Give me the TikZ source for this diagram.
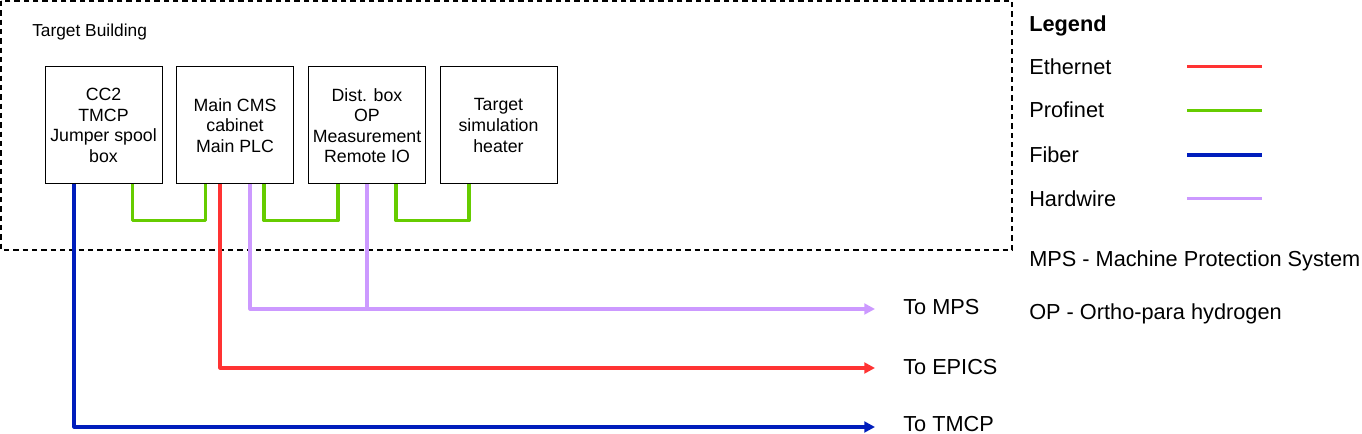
\documentclass[tikz,border=0pt]{standalone}
\usepackage{fontspec}
\setmainfont{Liberation Sans}
\usepackage{xcolor}
\usepackage{tikz}
\usetikzlibrary{arrows.meta,calc}

\definecolor{ethred}{HTML}{FF3333}
\definecolor{pngreen}{HTML}{66CC00}
\definecolor{fibblue}{HTML}{001DBC}
\definecolor{hwpurple}{HTML}{CC99FF}

\begin{document}
\begin{tikzpicture}[x=0.75pt,y=-0.75pt,
		cabinet/.style={draw, line width=0.75pt, minimum width=87.75pt, minimum height=87.75pt, align=center, inner sep=1pt, font=\fontsize{13.3}{15.4}\selectfont},
		lbl/.style={anchor=base west, inner sep=0pt, font=\fontsize{16.3}{19}\selectfont},
		cable/.style={line width=2.4pt, line join=round},
		ethernet/.style={cable, draw=ethred},
		profinet/.style={cable, draw=pngreen},
		fiber/.style={cable, draw=fibblue},
		hardwire/.style={cable, draw=hwpurple},
		tip/.style={-{Triangle[length=8pt,width=8pt]}}]
				\useasboundingbox (0,0) rectangle (1362,434);
				
				% building
				\draw [line width=1.1pt, dash pattern=on 4pt off 3pt] (1,1) rectangle (1012,250);
				\node [anchor=base west, inner sep=0pt, font=\fontsize{13}{15.4}\selectfont] (bldg) at (32,37) {Target Building};
				
				\node [cabinet] (cc2) at (103.5,125.5) {CC2\\TMCP\\Jumper spool\\box};
				\node [cabinet] (cms) at (235,125.5) {Main CMS\\cabinet\\Main PLC};
				\node [cabinet] (dist) at (367,125.5) {Dist. box\\OP\\Measurement\\Remote IO};
				\node [cabinet] (heater) at (498.5,125.5) {Target\\simulation\\heater};
				
				% outgoing
				\node [lbl] (mpslbl) at (903,315) {To MPS};
				\node [lbl] (epicslbl) at (903,374) {To EPICS};
				\node [lbl] (tmcplbl) at (903,431) {To TMCP};
				\coordinate (tomps) at (875,309);
				\coordinate (toepics) at (875,368);
				\coordinate (totmcp) at (875,427);
				
				\draw [profinet] ($(cc2.south)+(29,0)$) -- ++(0,36) -| ($(cms.south)+(-29.5,0)$);
				\draw [profinet] ($(cms.south)+(29,0)$) -- ++(0,36) -| ($(dist.south)+(-29,0)$);
				\draw [profinet] ($(dist.south)+(29,0)$) -- ++(0,36) -| ($(heater.south)+(-29.5,0)$);
				
				\draw [hardwire] (dist.south) -- (dist.south |- tomps);
				\draw [hardwire, tip] ($(cms.south)+(15,0)$) |- (tomps);
				\draw [ethernet, tip] ($(cms.south)+(-15,0)$) |- (toepics);
				\draw [fiber, tip] ($(cc2.south)+(-29.5,0)$) |- (totmcp);
				
				% legend
				\node [lbl] (legend) at (1029,32) {\textbf{Legend}};
				\node [lbl] (ethlbl) at (1029,75) {Ethernet};
				\node [lbl] (pnlbl) at (1029,118) {Profinet};
				\node [lbl] (fiblbl) at (1029,163) {Fiber};
				\node [lbl] (hwlbl) at (1029,207) {Hardwire};
				\draw [ethernet] (1187,66.7) -- (1262,66.7);
				\draw [profinet] (1187,110.3) -- (1262,110.3);
				\draw [fiber] (1187,155) -- (1262,155);
				\draw [hardwire] (1187,198.7) -- (1262,198.7);
				
				\node [lbl] (mpsdef) at (1029,266.5) {MPS - Machine Protection System};
				\node [lbl] (opdef) at (1029,319.5) {OP - Ortho-para hydrogen};
\end{tikzpicture}
\end{document}
